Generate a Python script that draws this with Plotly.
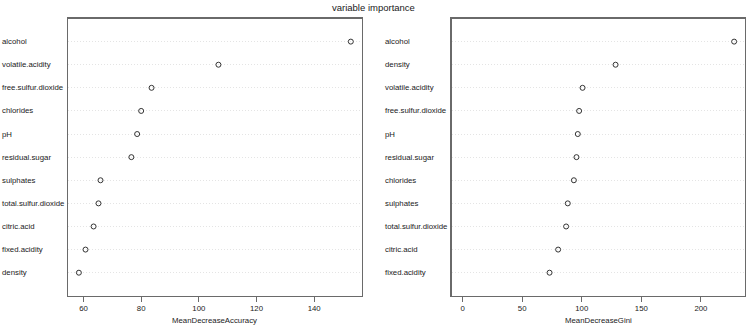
import plotly.graph_objects as go

# ---- data (top to bottom as displayed) ----
acc_labels = ["alcohol", "volatile.acidity", "free.sulfur.dioxide", "chlorides", "pH",
              "residual.sugar", "sulphates", "total.sulfur.dioxide", "citric.acid",
              "fixed.acidity", "density"]
acc_values = [152.7, 106.8, 83.6, 80.0, 78.6, 76.6, 65.9, 65.2, 63.5, 60.7, 58.4]

gini_labels = ["alcohol", "density", "volatile.acidity", "free.sulfur.dioxide", "pH",
               "residual.sugar", "chlorides", "sulphates", "total.sulfur.dioxide",
               "citric.acid", "fixed.acidity"]
gini_values = [227.9, 128.4, 100.7, 97.8, 96.7, 95.6, 93.4, 88.3, 86.9, 80.2, 73.0]

acc_ticks = [60, 80, 100, 120, 140]
gini_ticks = [0, 50, 100, 150, 200]

title_text = "variable importance"
acc_title = "MeanDecreaseAccuracy"
gini_title = "MeanDecreaseGini"

W, H = 746, 327
FONT = "Liberation Sans, Arial, sans-serif"
TXT = "#1a1a1a"
BOX = "#6a6a6a"
FS = 7.8

n = len(acc_labels)
ypos = [n - i for i in range(n)]

def xrange_r(lo, hi):
    d = (hi - lo) * 0.04
    return [lo - d, hi + d]

fig = go.Figure()
marker = dict(symbol="circle-open", size=5, color="#333333", line=dict(width=1, color="#333333"))
fig.add_trace(go.Scatter(x=acc_values, y=ypos, mode="markers", marker=marker,
                         xaxis="x", yaxis="y", showlegend=False, hoverinfo="skip"))
fig.add_trace(go.Scatter(x=gini_values, y=ypos, mode="markers", marker=marker,
                         xaxis="x2", yaxis="y2", showlegend=False, hoverinfo="skip"))

dom1 = [68 / W, 361.7 / W]
dom2 = [451.7 / W, 745 / W]
ydom = [1 - 295.8 / H, 1 - 18.5 / H]

xcommon = dict(showgrid=False, zeroline=False, showline=True, mirror=True,
               linecolor=BOX, linewidth=1.3, ticks="outside", ticklen=5,
               tickcolor=BOX, tickwidth=1, fixedrange=True,
               tickfont=dict(family=FONT, size=FS, color=TXT))
ycommon = dict(range=[0, n + 1], showgrid=True, gridcolor="#e4e4e4", griddash="1px,2px",
               gridwidth=1, zeroline=False, showline=True, mirror=True,
               linecolor=BOX, linewidth=1.3, tickvals=ypos, showticklabels=False,
               ticks="", domain=ydom, fixedrange=True)

fig.update_layout(
    width=W, height=H,
    margin=dict(l=0, r=0, t=0, b=0),
    paper_bgcolor="white", plot_bgcolor="white",
    xaxis=dict(domain=dom1, range=xrange_r(min(acc_values), max(acc_values)),
               tickvals=acc_ticks, anchor="y", **xcommon),
    yaxis=dict(anchor="x", **ycommon),
    xaxis2=dict(domain=dom2, range=xrange_r(0, max(gini_values)),
                tickvals=gini_ticks, anchor="y2", **xcommon),
    yaxis2=dict(anchor="x2", **ycommon),
)

ann = []
ann.append(dict(text=title_text, x=0.5, y=1 - 7 / H, xref="paper", yref="paper",
                xanchor="center", yanchor="middle", showarrow=False,
                font=dict(family=FONT, size=9.5, color=TXT)))
for lab, yy in zip(acc_labels, ypos):
    ann.append(dict(text=lab, x=0 / W, y=yy, xref="paper", yref="y",
                    xanchor="left", yanchor="middle", showarrow=False,
                    font=dict(family=FONT, size=FS, color=TXT)))
for lab, yy in zip(gini_labels, ypos):
    ann.append(dict(text=lab, x=383 / W, y=yy, xref="paper", yref="y2",
                    xanchor="left", yanchor="middle", showarrow=False,
                    font=dict(family=FONT, size=FS, color=TXT)))
ann.append(dict(text=acc_title, x=sum(dom1) / 2, y=1 - 320 / H, xref="paper", yref="paper",
                xanchor="center", yanchor="middle", showarrow=False,
                font=dict(family=FONT, size=FS, color=TXT)))
ann.append(dict(text=gini_title, x=sum(dom2) / 2, y=1 - 320 / H, xref="paper", yref="paper",
                xanchor="center", yanchor="middle", showarrow=False,
                font=dict(family=FONT, size=FS, color=TXT)))
fig.update_layout(annotations=ann)

fig.write_html("out.html", config={"displayModeBar": False, "staticPlot": True},
               post_script="document.body.style.margin='0';document.body.style.overflow='hidden';")
